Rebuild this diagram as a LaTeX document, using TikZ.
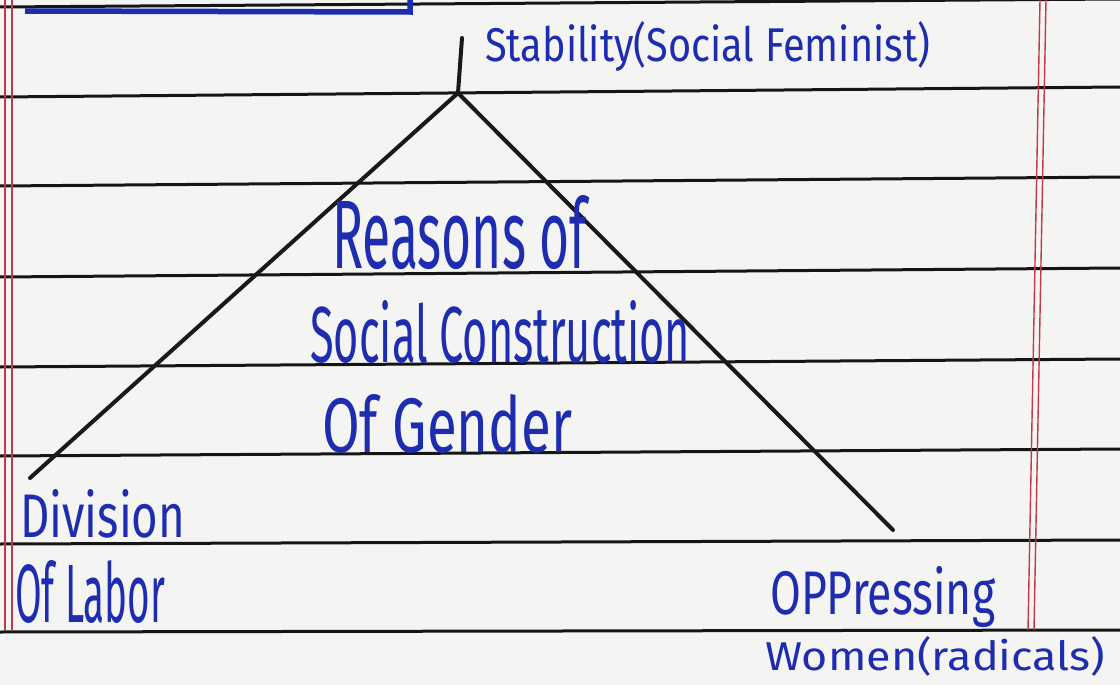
\documentclass[tikz,border=0pt]{standalone}
\usepackage{fontspec}
\setmainfont{Fira Sans}
\definecolor{paper}{HTML}{F4F4F2}
\definecolor{ink}{HTML}{1E2DB0}
\definecolor{rule}{HTML}{151515}
\definecolor{margin}{HTML}{C23A48}
\tikzset{
  ruled/.style={draw=rule, line width=3pt},
  marginline/.style={draw=margin, line width=1.4pt},
  pen/.style={draw=black!90, line width=4pt, line cap=round},
  hand/.style={inner sep=0pt, anchor=base west, text=ink},
}
\newcommand{\hw}[3]{\resizebox{#1}{#2}{#3}}
\begin{document}
\begin{tikzpicture}[x=1pt,y=-1pt]
\useasboundingbox (0,0) rectangle (1120,685);
\fill[paper] (0,0) rectangle (1120,685);
% ruled lines
\draw[ruled] (0,7) -- (1120,-1);
\draw[ruled] (0,97) -- (1120,87);
\draw[ruled] (0,186) -- (1120,177);
\draw[ruled] (0,277) -- (1120,268);
\draw[ruled] (0,367) -- (1120,359);
\draw[ruled] (0,456) -- (1120,449);
\draw[ruled] (0,544) -- (1120,540);
\draw[ruled] (0,632) -- (1120,630);
% margins
\draw[marginline] (5,0) -- (5,630);
\draw[marginline] (12,0) -- (12,630);
\draw[marginline] (1040,0) -- (1028,630);
\draw[marginline] (1046,0) -- (1034,630);
% blue box edge at top
\draw[draw=ink, line width=5.5pt] (25,11) -- (410,12) -- (410,-2);
% triangle
\coordinate (tick) at (462,38);
\coordinate (apex) at (458,93);
\coordinate (left) at (30,478);
\coordinate (right) at (893,530);
\draw[pen] (tick) -- (apex);
\draw[pen] (left) -- (apex) -- (right);
% labels
\node[hand] (stab) at (485,62) {\hw{445pt}{40pt}{Stability(Social Feminist)}};
\node[hand] (reasons) at (332,268) {\hw{255pt}{73pt}{Reasons of}};
\node[hand] (social) at (310,362) {\hw{380pt}{62pt}{Social Construction}};
\node[hand] (gender) at (322,452) {\hw{250pt}{58pt}{Of Gender}};
\node[hand] (division) at (20,537) {\hw{165pt}{48pt}{Division}};
\node[hand] (labor) at (15,622) {\hw{150pt}{62pt}{Of Labor}};
\node[hand] (oppr) at (770,614) {\hw{225pt}{48pt}{OPPressing}};
\node[hand] (women) at (765,670) {\hw{340pt}{34pt}{Women(radicals)}};
\end{tikzpicture}
\end{document}
